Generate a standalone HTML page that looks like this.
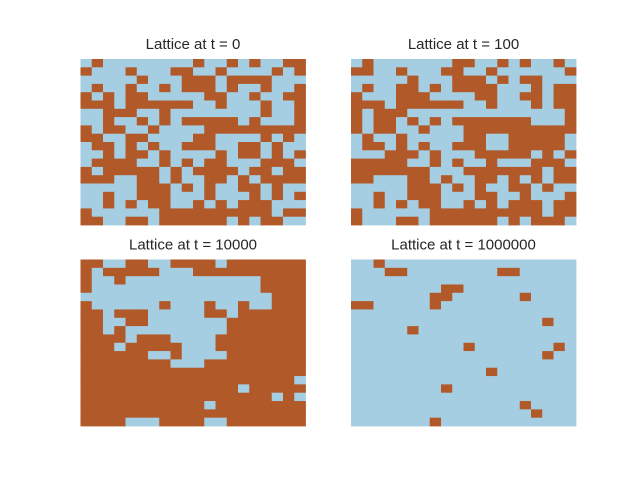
<!DOCTYPE html>
<html><head><meta charset="utf-8"><style>
body{margin:0;background:#fff;}
svg{display:block;}
text{font-family:"Liberation Sans",Arial,sans-serif;font-size:15px;fill:#262626;}
</style></head><body>
<svg id="fig" width="640" height="480" viewBox="0 0 640 480"></svg>
<script>
const titles = ["Lattice at t = 0","Lattice at t = 100","Lattice at t = 10000","Lattice at t = 1000000"];
const lattice0 = ["01000000001001010011","10001000110010000101","00000100011101111000","01001001011101001001","10101100000110010011","11101111110010001001","00111001000000001001","00100101011111010001","10110010000111111111","11001100001100001010","01101010011100110100","00101101000010110101","01111001010110001110","10111110101111011011","11100110100110101111","00000111010100110100","00100111000100010101","00101011001010111000","10000001111111111011","11001101111110101100"];
const lattice100 = ["01000000011001010010","11001000110010000001","00000100011101011000","01001101011110001011","10001110000110011011","11101111110010001011","10111000000000000001","10110101011111110001","10110010001111111111","01001000001100111110","01101010011100111110","00011101000111110101","11111001010010001110","11111110001111111011","11000110100110101011","00000111010100110100","00100111000110010001","00101011001010111011","10000001111111111011","10001101111110101110"];
const lattice10000 = ["11001100111101111111","10111110001111111111","10010000000000001111","10000000000000001111","00000000000000000111","10000001000100100111","11011100000110111111","11001100000001111111","11010000000001111111","11110111000011111111","11101111100011111111","11111100100001111111","11111111000111111111","11111111111111111111","11111111111111111110","11111111111111011111","11111111111111111010","11111111111011111111","11111111111111111111","11110001111001111111"];
const lattice1000000 = ["00100000000000000000","00011000000001100000","00000000000000000000","00000000110000000000","00000001100000010000","11000001000000000000","00000000000000000000","00000000000000000100","00000100000000000000","00000000000000000000","00000000001000000010","00000000000000000100","00000000000000000000","00000000000010000000","00000000000000000000","00000000100000000000","00000000000000000000","00000000000000010000","00000000000000001000","00000001000000000000"];
const lattices = [lattice0, lattice100, lattice10000, lattice1000000];
const colors = ["#a6cee3","#b15928"];
const NS = "http://www.w3.org/2000/svg";
const svg = document.getElementById("fig");
const panels = [{x0:80.5,x1:305.5,y0:59,y1:225},{x0:351,x1:576,y0:59,y1:225},{x0:80.5,x1:305.5,y0:259.5,y1:426},{x0:351,x1:576,y0:259.5,y1:426}];
panels.forEach((p, k) => {
  const data = lattices[k];
  const nr = data.length, nc = data[0].length;
  const xs = c => p.x0 + (p.x1 - p.x0) * c / nc;
  const ys = r => p.y0 + (p.y1 - p.y0) * r / nr;
  const g = document.createElementNS(NS, "g");
  
  
  svg.appendChild(g);
  for (let r = 0; r < nr; r++) {
    for (let c = 0; c < nc; c++) {
      const v = +data[r][c];
      const rect = document.createElementNS(NS, "rect");
      rect.setAttribute("x", xs(c));
      rect.setAttribute("y", ys(r));
      rect.setAttribute("width", xs(c + 1) - xs(c) + 0.4);
      rect.setAttribute("height", ys(r + 1) - ys(r) + 0.4);
      rect.setAttribute("fill", colors[v]);
      
      
      g.appendChild(rect);
    }
  }
  const t = document.createElementNS(NS, "text");
  t.setAttribute("x", (p.x0 + p.x1) / 2);
  t.setAttribute("y", p.y0 - 10);
  t.setAttribute("text-anchor", "middle");
  t.textContent = titles[k];
  
  
  svg.appendChild(t);
});
</script>
</body></html>
